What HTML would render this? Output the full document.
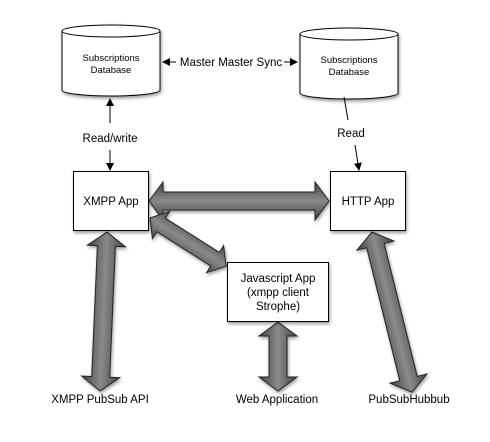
<!DOCTYPE html>
<html><head><style>
body{margin:0;background:#fff;}
svg{display:block;font-family:"Liberation Sans",sans-serif;}
</style></head><body>
<svg width="490" height="442" viewBox="0 0 490 442">
<defs>
<linearGradient id="g" gradientUnits="userSpaceOnUse" x1="0" y1="-19" x2="0" y2="19">
<stop offset="0" stop-color="#444"/><stop offset="0.5" stop-color="#8a8a8a"/><stop offset="1" stop-color="#444"/>
</linearGradient>
<filter id="sh" x="-20%" y="-20%" width="140%" height="140%"><feDropShadow dx="1" dy="2" stdDeviation="1.5" flood-opacity="0.4"/></filter>
<marker id="ah" markerWidth="8" markerHeight="8" refX="7" refY="4" orient="auto" markerUnits="userSpaceOnUse"><path d="M0,0 L8,4 L0,8 z" fill="#000"/></marker>
</defs>

<g filter="url(#sh)" stroke="#000" stroke-width="1" fill="#fff">
<path d="M62,31 L62,90 A49,6 0 0 0 160,90 L160,31"/>
<ellipse cx="111" cy="31" rx="49" ry="6"/>
<path d="M300,34 L300,93 A49,6 0 0 0 398,93 L398,34"/>
<ellipse cx="349" cy="34" rx="49" ry="6"/>
</g>
<g font-size="9.5" text-anchor="middle" fill="#000">
<text x="111" y="61">Subscriptions</text><text x="111" y="73">Database</text>
<text x="349" y="63">Subscriptions</text><text x="349" y="75">Database</text>
</g>

<line x1="176" y1="62" x2="163" y2="62" stroke="#000" marker-end="url(#ah)"/>
<line x1="284" y1="62" x2="297" y2="62" stroke="#000" marker-end="url(#ah)"/>
<text x="231" y="66" font-size="11.5" text-anchor="middle">Master Master Sync</text>

<line x1="110" y1="123" x2="110" y2="99" stroke="#000" marker-end="url(#ah)"/>
<line x1="110" y1="150" x2="110" y2="170" stroke="#000" marker-end="url(#ah)"/>
<text x="110" y="142" font-size="11.5" text-anchor="middle">Read/write</text>
<line x1="344" y1="97" x2="348" y2="120" stroke="#000"/>
<line x1="355" y1="145" x2="359" y2="170" stroke="#000" marker-end="url(#ah)"/>
<text x="351" y="137" font-size="11.5" text-anchor="middle">Read</text>

<g fill="url(#g)" stroke="#222" stroke-width="1" filter="url(#sh)">
<polygon transform="translate(149,201)" points="0,0 14,-19 14,-9 166,-9 166,-19 180,0 166,19 166,9 14,9 14,19"/>
<polygon transform="translate(150,218) rotate(32.3)" points="0,0 13,-16 13,-8 77,-8 77,-16 90,0 77,16 77,8 13,8 13,16"/>
<polygon transform="translate(107,232) rotate(92.5)" points="0,0 14,-19 14,-9 145,-9 145,-19 159,0 145,19 145,9 14,9 14,19"/>
<polygon transform="translate(278,322) rotate(90)" points="0,0 14,-19 14,-9 55,-9 55,-19 69,0 55,19 55,9 14,9 14,19"/>
<polygon transform="translate(372,232) rotate(76)" points="0,0 14,-19 14,-9 151,-9 151,-19 165,0 151,19 151,9 14,9 14,19"/>
</g>

<g fill="#fff" stroke="#000" filter="url(#sh)">
<rect x="73.5" y="171.5" width="75" height="59"/>
<rect x="330.5" y="171.5" width="75" height="59"/>
<rect x="227.5" y="262.5" width="101" height="59"/>
</g>
<g font-size="11.5" text-anchor="middle">
<text x="111" y="205">XMPP App</text>
<text x="368" y="205">HTTP App</text>
<text x="278" y="282">Javascript App</text>
<text x="278" y="296">(xmpp client</text>
<text x="278" y="310">Strophe)</text>
<text x="100" y="403">XMPP PubSub API</text>
<text x="277" y="403">Web Application</text>
<text x="409" y="403">PubSubHubbub</text>
</g>
</svg>
</body></html>
